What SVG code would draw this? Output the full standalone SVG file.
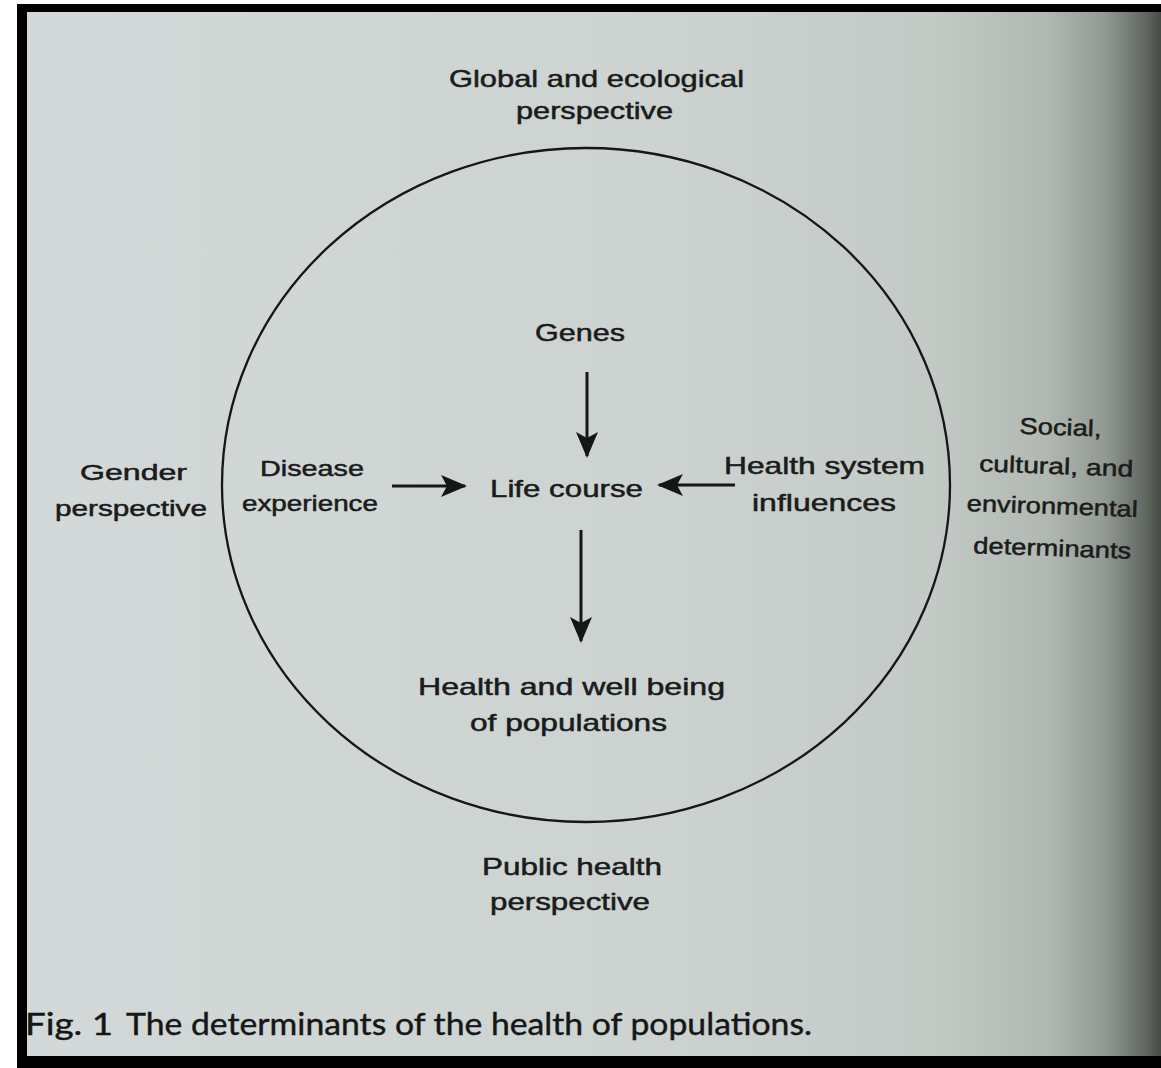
<svg xmlns="http://www.w3.org/2000/svg" width="1161" height="1068" viewBox="0 0 1161 1068">
<defs>
<linearGradient id="page" x1="0" y1="0" x2="1" y2="0">
<stop offset="0" stop-color="#d3d9d8"/>
<stop offset="0.55" stop-color="#ccd3d1"/>
<stop offset="0.8" stop-color="#c3cac6"/>
<stop offset="0.9" stop-color="#b1b8b2"/>
<stop offset="0.95" stop-color="#939a93"/>
<stop offset="0.985" stop-color="#636963"/>
<stop offset="1" stop-color="#464b46"/>
</linearGradient>
<marker id="ah" markerUnits="userSpaceOnUse" markerWidth="26" markerHeight="22" viewBox="0 0 26 22" refX="24" refY="11" orient="auto">
<path d="M0,0 L26,11 L0,22 L6,11 z" fill="#161616"/>
</marker>
<style>
.t{font-family:"Liberation Sans",Arial,sans-serif;fill:#1b1b1b;stroke:#1b1b1b;stroke-width:0.5;}
.cap{font-family:Lato,"Open Sans",sans-serif;fill:#161616;stroke:#161616;stroke-width:0.4;}
.c{fill:none;stroke:#161616;stroke-width:3;}
.frame{fill:#000;}
</style>
</defs>
<rect x="0" y="0" width="1161" height="1068" fill="#ffffff"/>
<rect x="17" y="4" width="1144" height="1064" class="frame"/>
<rect x="27" y="12" width="1134" height="1044" fill="url(#page)"/>

<g id="circle">
<ellipse cx="586" cy="485" rx="364" ry="337" fill="none" stroke="#161616" stroke-width="2.3"/>
</g>

<g id="connectors">
<line class="c" x1="587" y1="372" x2="587" y2="456" marker-end="url(#ah)"/>
<line class="c" x1="581" y1="530" x2="581" y2="641" marker-end="url(#ah)"/>
<line class="c" x1="392" y1="486" x2="465" y2="486" marker-end="url(#ah)"/>
<line class="c" x1="735" y1="485" x2="659" y2="485" marker-end="url(#ah)"/>
</g>

<g id="global">
<text class="t" x="449" y="87" font-size="24" textLength="295" lengthAdjust="spacingAndGlyphs">Global and ecological</text>
<text class="t" x="516" y="119" font-size="24" textLength="157" lengthAdjust="spacingAndGlyphs">perspective</text>
</g>
<g id="genes">
<text class="t" x="535" y="341" font-size="24" textLength="90" lengthAdjust="spacingAndGlyphs">Genes</text>
</g>
<g id="disease">
<text class="t" x="260" y="476" font-size="22" textLength="104" lengthAdjust="spacingAndGlyphs">Disease</text>
<text class="t" x="242" y="511" font-size="22" textLength="136" lengthAdjust="spacingAndGlyphs">experience</text>
</g>
<g id="lifecourse">
<text class="t" x="490" y="497" font-size="24" textLength="153" lengthAdjust="spacingAndGlyphs">Life course</text>
</g>
<g id="healthsystem">
<text class="t" x="724" y="474" font-size="24" textLength="201" lengthAdjust="spacingAndGlyphs">Health system</text>
<text class="t" x="752" y="511" font-size="24" textLength="144" lengthAdjust="spacingAndGlyphs">influences</text>
</g>
<g id="outcome">
<text class="t" x="418" y="695" font-size="24" textLength="307" lengthAdjust="spacingAndGlyphs">Health and well  being</text>
<text class="t" x="470" y="731" font-size="24" textLength="197" lengthAdjust="spacingAndGlyphs">of populations</text>
</g>
<g id="gender">
<text class="t" x="80" y="480" font-size="22" textLength="107" lengthAdjust="spacingAndGlyphs">Gender</text>
<text class="t" x="55" y="516" font-size="22" textLength="152" lengthAdjust="spacingAndGlyphs">perspective</text>
</g>
<g id="social" transform="rotate(2 1055 500)">
<text class="t" x="1017" y="435" font-size="23" textLength="82" lengthAdjust="spacingAndGlyphs">Social,</text>
<text class="t" x="978" y="474" font-size="23" textLength="154" lengthAdjust="spacingAndGlyphs">cultural, and</text>
<text class="t" x="967" y="514" font-size="23" textLength="171" lengthAdjust="spacingAndGlyphs">environmental</text>
<text class="t" x="975" y="556" font-size="23" textLength="158" lengthAdjust="spacingAndGlyphs">determinants</text>
</g>
<g id="publichealth">
<text class="t" x="482" y="875" font-size="24" textLength="180" lengthAdjust="spacingAndGlyphs">Public health</text>
<text class="t" x="490" y="910" font-size="24" textLength="160" lengthAdjust="spacingAndGlyphs">perspective</text>
</g>
<g id="caption">
<text class="cap" x="25" y="1035" font-size="30" textLength="88" lengthAdjust="spacingAndGlyphs">Fig. 1</text>
<text class="cap" x="126" y="1035" font-size="30" textLength="686" lengthAdjust="spacingAndGlyphs">The determinants of the health of populations.</text>
</g>
</svg>
